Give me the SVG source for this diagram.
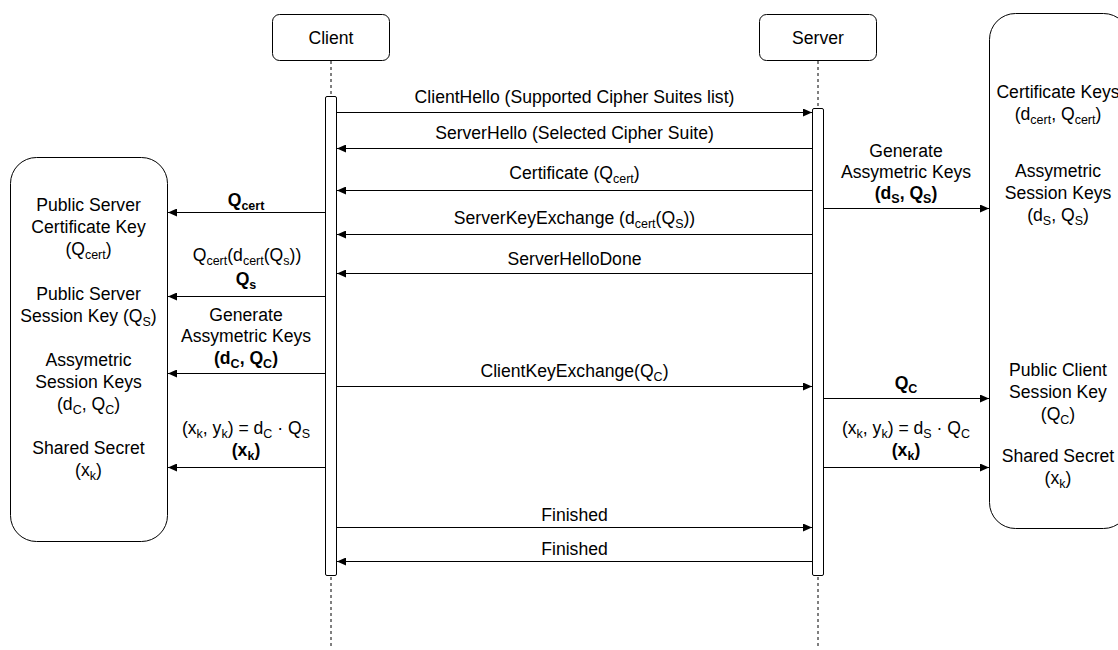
<svg xmlns="http://www.w3.org/2000/svg" width="1118" height="650" viewBox="0 0 1118 650">
<defs>
<marker id="arr" markerUnits="userSpaceOnUse" markerWidth="10" markerHeight="8" refX="9" refY="4" orient="auto">
<path d="M0,0 L9,4 L0,8 z" fill="#000"/>
</marker>
</defs>
<style>
text{font-family:"Liberation Sans",Arial,Helvetica,sans-serif;font-size:17.6px;fill:#000;text-anchor:middle}
.s{font-size:12.5px}
.b{font-weight:bold}
.box{fill:#fff;stroke:#000;stroke-width:1}
.life{stroke:#000;stroke-width:1;stroke-dasharray:3 3;fill:none}
.msg{stroke:#000;stroke-width:1;fill:none;marker-end:url(#arr)}
</style>
<rect width="1118" height="650" fill="#fff"/>

<g id="lifelines">
<line class="life" x1="331" y1="61" x2="331" y2="648"/>
<line class="life" x1="818" y1="61" x2="818" y2="648"/>
</g>

<g id="client">
<rect class="box" x="272.5" y="14.5" width="117" height="46" rx="7"/>
<text x="331" y="44">Client</text>
</g>
<g id="server">
<rect class="box" x="759.5" y="14.5" width="117" height="46" rx="7"/>
<text x="818" y="44">Server</text>
</g>
<g id="client-activation">
<rect class="box" x="325.5" y="96.5" width="11" height="479" rx="1.5"/>
</g>
<g id="server-activation">
<rect class="box" x="812.5" y="108.5" width="11" height="467" rx="1.5"/>
</g>

<g id="client-keys">
<rect class="box" x="10.5" y="157.5" width="157" height="384" rx="26"/>
<text x="88.5" y="211">Public Server</text>
<text x="88.5" y="233">Certificate Key</text>
<text x="88.5" y="255">(Q<tspan class="s" dy="4">cert</tspan><tspan dy="-4">)</tspan></text>
<text x="88.5" y="300">Public Server</text>
<text x="88.5" y="322">Session Key (Q<tspan class="s" dy="4">S</tspan><tspan dy="-4">)</tspan></text>
<text x="88.5" y="366">Assymetric</text>
<text x="88.5" y="388">Session Keys</text>
<text x="88.5" y="410">(d<tspan class="s" dy="4">C</tspan><tspan dy="-4">, Q</tspan><tspan class="s" dy="4">C</tspan><tspan dy="-4">)</tspan></text>
<text x="88.5" y="454">Shared Secret</text>
<text x="88.5" y="476">(x<tspan class="s" dy="4">k</tspan><tspan dy="-4">)</tspan></text>
</g>

<g id="server-keys">
<rect class="box" x="989.5" y="13.5" width="140" height="515" rx="26"/>
<text x="1058" y="98">Certificate Keys</text>
<text x="1058" y="120">(d<tspan class="s" dy="4">cert</tspan><tspan dy="-4">, Q</tspan><tspan class="s" dy="4">cert</tspan><tspan dy="-4">)</tspan></text>
<text x="1058" y="177">Assymetric</text>
<text x="1058" y="199">Session Keys</text>
<text x="1058" y="221">(d<tspan class="s" dy="4">S</tspan><tspan dy="-4">, Q</tspan><tspan class="s" dy="4">S</tspan><tspan dy="-4">)</tspan></text>
<text x="1058" y="376">Public Client</text>
<text x="1058" y="398">Session Key</text>
<text x="1058" y="420">(Q<tspan class="s" dy="4">C</tspan><tspan dy="-4">)</tspan></text>
<text x="1058" y="462">Shared Secret</text>
<text x="1058" y="484">(x<tspan class="s" dy="4">k</tspan><tspan dy="-4">)</tspan></text>
</g>

<g id="connectors">
<g id="m-clienthello">
<line class="msg" x1="337" y1="112.5" x2="812" y2="112.5"/>
<text x="574.5" y="103">ClientHello (Supported Cipher Suites list)</text>
</g>
<g id="m-serverhello">
<line class="msg" x1="812" y1="148.5" x2="337" y2="148.5"/>
<text x="574.5" y="139">ServerHello (Selected Cipher Suite)</text>
</g>
<g id="m-certificate">
<line class="msg" x1="812" y1="190.5" x2="337" y2="190.5"/>
<text x="574.5" y="179">Certificate (Q<tspan class="s" dy="4">cert</tspan><tspan dy="-4">)</tspan></text>
</g>
<g id="m-serverkeyexchange">
<line class="msg" x1="812" y1="234.5" x2="337" y2="234.5"/>
<text x="574.5" y="224">ServerKeyExchange (d<tspan class="s" dy="4">cert</tspan><tspan dy="-4">(Q</tspan><tspan class="s" dy="4">S</tspan><tspan dy="-4">))</tspan></text>
</g>
<g id="m-serverhellodone">
<line class="msg" x1="812" y1="273.5" x2="337" y2="273.5"/>
<text x="574.5" y="265">ServerHelloDone</text>
</g>
<g id="m-clientkeyexchange">
<line class="msg" x1="337" y1="386.5" x2="812" y2="386.5"/>
<text x="574.5" y="377">ClientKeyExchange(Q<tspan class="s" dy="4">C</tspan><tspan dy="-4">)</tspan></text>
</g>
<g id="m-finished-1">
<line class="msg" x1="337" y1="527.5" x2="812" y2="527.5"/>
<text x="574.5" y="521">Finished</text>
</g>
<g id="m-finished-2">
<line class="msg" x1="812" y1="561.5" x2="337" y2="561.5"/>
<text x="574.5" y="555">Finished</text>
</g>

<g id="c-qcert">
<line class="msg" x1="325" y1="212.5" x2="168" y2="212.5"/>
<text class="b" x="246" y="206">Q<tspan class="s" dy="4">cert</tspan></text>
</g>
<g id="c-qs">
<line class="msg" x1="325" y1="296.5" x2="168" y2="296.5"/>
<text x="247" y="261">Q<tspan class="s" dy="4">cert</tspan><tspan dy="-4">(d</tspan><tspan class="s" dy="4">cert</tspan><tspan dy="-4">(Q</tspan><tspan class="s" dy="4">s</tspan><tspan dy="-4">))</tspan></text>
<text class="b" x="246" y="285">Q<tspan class="s" dy="4">s</tspan></text>
</g>
<g id="c-genkeys">
<line class="msg" x1="325" y1="373.5" x2="168" y2="373.5"/>
<text x="246" y="321">Generate</text>
<text x="246" y="342">Assymetric Keys</text>
<text class="b" x="246" y="364">(d<tspan class="s" dy="4">C</tspan><tspan dy="-4">, Q</tspan><tspan class="s" dy="4">C</tspan><tspan dy="-4">)</tspan></text>
</g>
<g id="c-secret">
<line class="msg" x1="325" y1="467.5" x2="168" y2="467.5"/>
<text x="246" y="434">(x<tspan class="s" dy="4">k</tspan><tspan dy="-4">, y</tspan><tspan class="s" dy="4">k</tspan><tspan dy="-4">) = d</tspan><tspan class="s" dy="4">C</tspan><tspan dy="-4"> · Q</tspan><tspan class="s" dy="4">S</tspan></text>
<text class="b" x="246" y="456">(x<tspan class="s" dy="4">k</tspan><tspan dy="-4">)</tspan></text>
</g>

<g id="s-genkeys">
<line class="msg" x1="824" y1="208.5" x2="989" y2="208.5"/>
<text x="906" y="157">Generate</text>
<text x="906" y="178">Assymetric Keys</text>
<text class="b" x="906" y="199">(d<tspan class="s" dy="4">S</tspan><tspan dy="-4">, Q</tspan><tspan class="s" dy="4">S</tspan><tspan dy="-4">)</tspan></text>
</g>
<g id="s-qc">
<line class="msg" x1="824" y1="398.5" x2="989" y2="398.5"/>
<text class="b" x="906" y="389">Q<tspan class="s" dy="4">C</tspan></text>
</g>
<g id="s-secret">
<line class="msg" x1="824" y1="467.5" x2="989" y2="467.5"/>
<text x="906" y="434">(x<tspan class="s" dy="4">k</tspan><tspan dy="-4">, y</tspan><tspan class="s" dy="4">k</tspan><tspan dy="-4">) = d</tspan><tspan class="s" dy="4">S</tspan><tspan dy="-4"> · Q</tspan><tspan class="s" dy="4">C</tspan></text>
<text class="b" x="906" y="456">(x<tspan class="s" dy="4">k</tspan><tspan dy="-4">)</tspan></text>
</g>
</g>
</svg>
